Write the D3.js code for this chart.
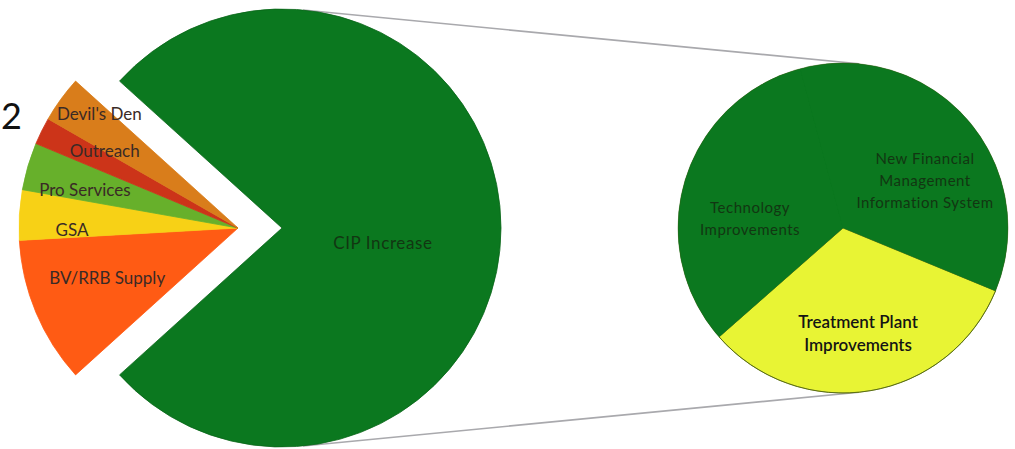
<!DOCTYPE html>
<html><head><meta charset="utf-8">
<script src="https://cdn.jsdelivr.net/npm/d3@7"></script>
<style>body{margin:0;background:#fff}svg{display:block}text{font-family:Lato,"Open Sans",sans-serif}</style>
</head><body>
<svg id="c" width="1015" height="449"></svg>
<script>
// ---- data ----
const mainCategories = ["CIP Increase", "BV/RRB Supply", "GSA", "Pro Services", "Outreach", "Devil's Den"];
const mainValues = [76.6, 10.8, 3.7, 3.5, 2.0, 3.4];
const mainColors = ["#0b781f", "#ff5b14", "#f7d116", "#67b02b", "#cc3419", "#d97d1b"];
const subCategories = ["Treatment Plant Improvements", "Technology Improvements", "New Financial Management Information System"];
const subValues = [32.3, 32.3, 35.4];
const subColors = ["#e8f434", "#0b781f", "#0b781f"];
const subLabelLines = [["Treatment Plant", "Improvements"], ["Technology", "Improvements"], ["New Financial", "Management", "Information System"]];

// ---- layout ----
const svg = d3.select("#c");
const deg = Math.PI / 180;
const C1 = {x: 282, y: 228}, R1 = 219, explode = 44;
const C2 = {x: 843, y: 228}, R2 = 165;

// connector lines (external tangents of the two pies)
const sa = (R1 - R2) / (C2.x - C1.x), ca = Math.sqrt(1 - sa * sa);
[-1, 1].forEach(s => {
  svg.append("line")
    .attr("x1", C1.x + R1 * sa).attr("y1", C1.y + s * R1 * ca)
    .attr("x2", C2.x + R2 * sa).attr("y2", C2.y + s * R2 * ca)
    .attr("stroke", "#a9a9ad").attr("stroke-width", 1.6);
});

// main pie
const total = d3.sum(mainValues);
const greenSpan = 2 * Math.PI * mainValues[0] / total;
const start = Math.PI / 2 - greenSpan / 2;
const pie = d3.pie().sort(null).value(d => d).startAngle(start).endAngle(start + 2 * Math.PI);
const arcs = pie(mainValues);
const arc1 = d3.arc().innerRadius(0).outerRadius(R1);
const othersMid = start + greenSpan + (2 * Math.PI - greenSpan) / 2;
const ox = explode * Math.sin(othersMid), oy = -explode * Math.cos(othersMid);

const gMain = svg.append("g").attr("transform", `translate(${C1.x},${C1.y})`);
arcs.forEach((a, i) => {
  const off = i === 0 ? [0, 0] : [ox, oy];
  gMain.append("path").attr("d", arc1(a))
    .attr("transform", `translate(${off[0]},${off[1]})`)
    .attr("fill", mainColors[i])
    .attr("stroke", i === 0 ? "#0a6619" : mainColors[i]).attr("stroke-width", 0.8);
});

// main labels (angle shift in degrees, radius)
const mainLabelPos = {"CIP Increase": [8.4, 102], "BV/RRB Supply": [1.8, 140], "GSA": [-3.8, 166],
  "Pro Services": [-2.1, 158], "Outreach": [3.8, 154], "Devil's Den": [3.6, 180]};
arcs.forEach((a, i) => {
  const p = mainLabelPos[mainCategories[i]];
  const ang = (a.startAngle + a.endAngle) / 2 + p[0] * deg;
  const off = i === 0 ? [0, 0] : [ox, oy];
  gMain.append("text")
    .attr("x", off[0] + p[1] * Math.sin(ang)).attr("y", off[1] - p[1] * Math.cos(ang))
    .attr("text-anchor", "middle").attr("dominant-baseline", "central")
    .attr("font-size", 17).attr("letter-spacing", i === 0 ? 0.6 : 0)
    .attr("fill", i === 0 ? "#123612" : "#3a2a26")
    .text(mainCategories[i]);
});

// secondary pie
const subStart = 112.4 * deg;
const pie2 = d3.pie().sort(null).value(d => d).startAngle(subStart).endAngle(subStart + 2 * Math.PI);
const arcs2 = pie2(subValues);
const arc2 = d3.arc().innerRadius(0).outerRadius(R2);
const gSub = svg.append("g").attr("transform", `translate(${C2.x},${C2.y})`);
gSub.append("circle").attr("r", R2).attr("fill", subColors[1]);
arcs2.forEach((a, i) => {
  gSub.append("path").attr("d", arc2(a)).attr("fill", subColors[i])
    .attr("stroke", i === 0 ? "#6f7a18" : "none").attr("stroke-width", 1);
});
gSub.append("circle").attr("r", R2).attr("fill", "none").attr("stroke", "#3d5a10").attr("stroke-width", 0.8).attr("stroke-opacity", 0.5);

const subLabelPos = [[1.3, 106], [-10.8, 93.5], [11, 95]];
arcs2.forEach((a, i) => {
  const p = subLabelPos[i];
  const ang = (a.startAngle + a.endAngle) / 2 + p[0] * deg;
  const cx = p[1] * Math.sin(ang), cy = -p[1] * Math.cos(ang);
  const lines = subLabelLines[i];
  const lh = i === 0 ? 23 : 22;
  const t = gSub.append("text").attr("text-anchor", "middle")
    .attr("font-size", i === 0 ? 17 : 15)
    .attr("font-weight", i === 0 ? 600 : 400)
    .attr("letter-spacing", i === 0 ? 0 : 0.5)
    .attr("fill", i === 0 ? "#141414" : "#123612");
  lines.forEach((l, j) => {
    t.append("tspan").attr("x", cx).attr("y", cy + (j - (lines.length - 1) / 2) * lh)
      .attr("dominant-baseline", "central").text(l);
  });
});

// cut-off title fragment at left edge
svg.append("text").attr("x", 1).attr("y", 129).attr("text-anchor", "start")
  .attr("font-size", 36).attr("fill", "#111").text("2");
</script>
</body></html>
